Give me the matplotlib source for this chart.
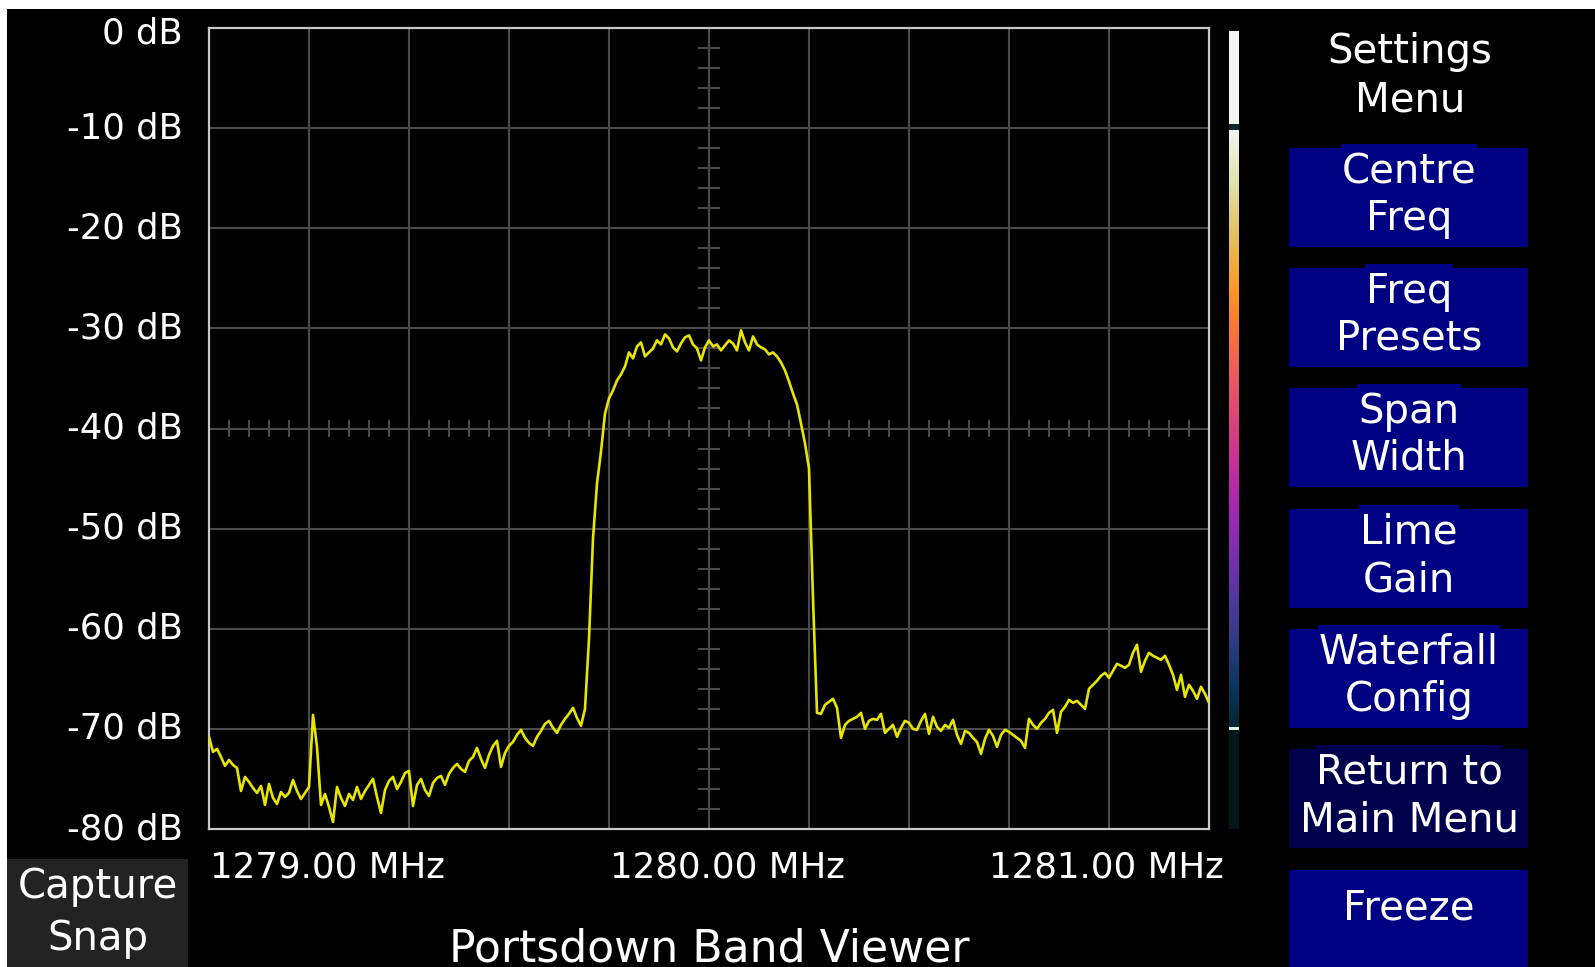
import matplotlib

matplotlib.use('Agg')
import matplotlib.pyplot as plt
import numpy as np
from matplotlib.colors import LinearSegmentedColormap
from matplotlib.patches import Rectangle

W, H = 1595, 967

span_start = 1278.75
span_stop = 1281.25
level_db = [
    -70.8, -72.3, -72.0, -72.8, -73.7, -73.1, -73.6, -73.9, -76.2, -74.8,
    -75.3, -75.9, -76.4, -75.7, -77.6, -75.5, -76.9, -77.5, -76.3, -76.8,
    -76.4, -75.1, -76.2, -77.0, -76.4, -75.8, -68.6, -71.8, -77.6, -76.5,
    -77.8, -79.3, -75.8, -76.9, -77.7, -76.5, -77.1, -75.8, -77.0, -76.2,
    -75.6, -75.0, -76.8, -78.4, -76.1, -75.2, -74.8, -76.0, -75.3, -74.4,
    -74.2, -77.7, -75.6, -75.0, -76.1, -76.7, -75.4, -74.9, -74.7, -75.6,
    -74.5, -73.9, -73.5, -74.0, -74.3, -73.2, -72.8, -71.9, -73.0, -73.9,
    -72.6, -71.7, -71.2, -73.8, -72.4, -71.7, -71.3, -70.6, -70.1, -70.9,
    -71.4, -71.7, -70.8, -70.2, -69.5, -69.2, -69.9, -70.4, -69.6, -69.0,
    -68.5, -67.9, -68.9, -69.7, -68.0, -61.0, -51.0, -45.5, -42.3, -38.5,
    -37.0, -36.2, -35.2, -34.6, -33.8, -32.4, -33.0, -31.8, -31.4, -32.8,
    -32.4, -32.0, -31.2, -31.6, -30.6, -31.0, -31.9, -32.3, -31.5, -30.9,
    -30.7, -31.6, -32.0, -33.2, -31.9, -31.2, -31.8, -31.6, -32.2, -31.7,
    -31.2, -31.5, -32.2, -30.2, -31.4, -32.2, -30.8, -31.6, -31.9, -32.1,
    -32.6, -32.4, -32.8, -33.4, -34.2, -35.3, -36.5, -37.6, -39.5, -41.5,
    -44.0, -57.0, -68.4, -68.5, -67.6, -67.3, -67.0, -67.9, -70.9, -69.6,
    -69.2, -69.0, -68.8, -68.4, -70.0, -69.2, -69.0, -69.1, -68.5, -70.4,
    -70.0, -69.6, -70.8, -69.9, -69.2, -69.4, -70.0, -70.1, -69.2, -68.5,
    -70.5, -68.8, -69.8, -70.2, -69.6, -69.9, -69.1, -70.6, -71.5, -70.2,
    -70.4, -70.9, -71.3, -72.5, -71.0, -70.1, -70.7, -71.8, -70.6, -70.1,
    -70.3, -70.6, -70.9, -71.2, -71.9, -69.0, -69.6, -70.0, -69.4, -69.0,
    -68.4, -68.1, -70.4, -68.3, -67.8, -67.1, -67.4, -67.2, -67.6, -68.0,
    -66.0, -65.6, -65.2, -64.7, -64.4, -64.9, -64.2, -63.5, -63.7, -63.9,
    -63.6, -62.4, -61.6, -64.3, -63.2, -62.4, -62.7, -62.9, -63.1, -62.7,
    -63.6, -64.6, -66.1, -64.6, -66.8, -65.6, -66.2, -67.0, -65.8, -66.5,
    -67.4,
]
# evenly spaced sweep bins
freq_mhz = np.linspace(span_start, span_stop, len(level_db))

y_ticks = [0, -10, -20, -30, -40, -50, -60, -70, -80]
y_labels = [f'{v} dB' for v in y_ticks]
x_labels = ['1279.00 MHz', '1280.00 MHz', '1281.00 MHz']
x_label_left = [210, 610, 989]  # px, the screen does not centre them on the grid

menu_title = ['Settings', 'Menu']
buttons = [
    ['Centre', 'Freq'],
    ['Freq', 'Presets'],
    ['Span', 'Width'],
    ['Lime', 'Gain'],
    ['Waterfall', 'Config'],
    ['Return to', 'Main Menu'],
    ['Freeze'],
]
button_tops = [148, 268, 388, 509, 629, 749, 870]
BTN_BLUE = '#000082'
BTN_DARK = '#00004c'

waterfall_colors = [
    (0.00, '#f5f5f0'),
    (0.08, '#e1e4af'),
    (0.18, '#e4be5a'),
    (0.27, '#fa9628'),
    (0.34, '#f8733c'),
    (0.41, '#eb5a5f'),
    (0.48, '#dc4678'),
    (0.55, '#c83296'),
    (0.62, '#aa28af'),
    (0.70, '#822db4'),
    (0.78, '#5537a0'),
    (0.86, '#2d3c82'),
    (0.93, '#0a375f'),
    (1.00, '#002832'),
]


def fx(x):
    return x / W


def fy(y):
    return 1 - y / H


def box(fig, x0, y0, x1, y1, color, z=-1):
    fig.add_artist(
        Rectangle((fx(x0), fy(y1)), (x1 - x0) / W, (y1 - y0) / H, transform=fig.transFigure,
                  facecolor=color, edgecolor='none', zorder=z)
    )


def label(fig, x, y, s, size=29, ha='center', **kw):
    return fig.text(fx(x), fy(y), s, ha=ha, va='baseline', color='white', fontsize=size, **kw)


fig = plt.figure(figsize=(W / 100, H / 100), dpi=100, facecolor='white')
box(fig, 7, 9, W, H, 'black', z=-2)
renderer = fig.canvas.get_renderer()

# spectrum graticule
ax = fig.add_axes([fx(209), fy(829), 1000 / W, 801 / H])
ax.set_facecolor('black')
ax.set_xlim(span_start, span_stop)
ax.set_ylim(-80, 0)
ax.set_xticks(np.arange(1279.0, 1281.01, 0.25))
ax.set_yticks(np.arange(-70, -9, 10))
ax.tick_params(length=0, labelbottom=False, labelleft=False)
ax.grid(color='#4a4a4a', lw=1.5)
for sp in ax.spines.values():
    sp.set_color('#c8c8c8')
    sp.set_linewidth(1.6)

# centre crosshair ticks
ax.vlines(np.arange(1278.80, 1281.21, 0.05), -40.85, -39.15, color='#4a4a4a', lw=1.5)
ax.hlines(np.arange(-78, -1, 2), 1279.9725, 1280.0275, color='#4a4a4a', lw=1.5)

ax.plot(freq_mhz, level_db, color='#e6e600', lw=1.9, zorder=3)

for v, lab in zip(y_ticks, y_labels):
    dy = -15 if v == 0 else -10
    ax.annotate(lab, xy=(0, v), xycoords=('axes fraction', 'data'), xytext=(-26, dy),
                textcoords='offset pixels', ha='right', va='baseline', color='white', fontsize=25.5)

for xl, lab in zip(x_label_left, x_labels):
    label(fig, xl, 878, lab, size=25.7, ha='left')

# waterfall colour bar
cmap = LinearSegmentedColormap.from_list('wf', waterfall_colors)
cax = fig.add_axes([fx(1229), fy(727), 10 / W, (727 - 130) / H])
cax.imshow(np.linspace(0, 1, 256)[:, None], aspect='auto', cmap=cmap)
cax.axis('off')
box(fig, 1229, 31, 1239, 124, '#f4f4f4')
box(fig, 1229, 124, 1239, 130, '#0a2a30')
box(fig, 1229, 727, 1239, 730, '#f0f0f0')
box(fig, 1229, 730, 1239, 829, '#00181c')

# menu
label(fig, 1410, 63, menu_title[0])
label(fig, 1410, 111, menu_title[1])
for lines, top in zip(buttons, button_tops):
    col = BTN_DARK if lines[0] == 'Return to' else BTN_BLUE
    bottom = H if len(lines) == 1 else top + 99
    box(fig, 1289, top, 1528, bottom, col)
    if len(lines) == 1:
        label(fig, 1409, top + 50, lines[0])
    else:
        t = label(fig, 1409, top + 35, lines[0])
        # the first line's text background pokes a little above the button
        bb = t.get_window_extent(renderer)
        box(fig, bb.x0 - 1, top - 4, bb.x1 + 1, top + 1, col)
        label(fig, 1409, top + 82, lines[1])

box(fig, 7, 859, 188, H, '#232323')
label(fig, 98, 898, 'Capture')
label(fig, 98, 950, 'Snap')

label(fig, 709, 961, 'Portsdown Band Viewer', size=31.8)

fig.savefig('out.png', dpi=100, facecolor=fig.get_facecolor())
